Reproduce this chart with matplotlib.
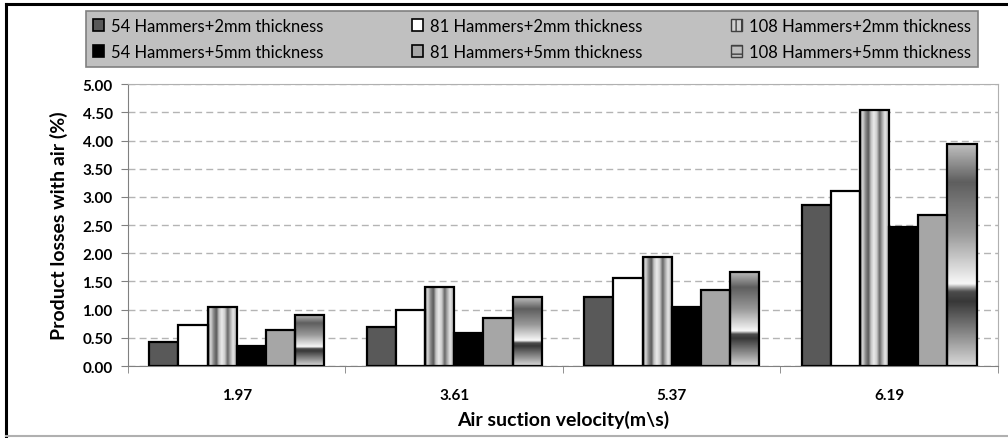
import numpy as np
import matplotlib
matplotlib.use("Agg")
import matplotlib.pyplot as plt
from matplotlib.patches import Patch, Rectangle
from matplotlib.lines import Line2D

plt.rcParams["font.family"] = ["Lato", "DejaVu Sans"]

# data
velocities = ["1.97", "3.61", "5.37", "6.19"]
series_names = [
    "54 Hammers+2mm thickness",
    "81 Hammers+2mm thickness",
    "108 Hammers+2mm thickness",
    "54 Hammers+5mm thickness",
    "81 Hammers+5mm thickness",
    "108 Hammers+5mm thickness",
]
h54_2mm = [0.43, 0.69, 1.23, 2.85]
h81_2mm = [0.72, 0.99, 1.56, 3.10]
h108_2mm = [1.05, 1.41, 1.93, 4.55]
h54_5mm = [0.36, 0.59, 1.05, 2.46]
h81_5mm = [0.63, 0.85, 1.35, 2.68]
h108_5mm = [0.91, 1.22, 1.67, 3.93]
series_values = [h54_2mm, h81_2mm, h108_2mm, h54_5mm, h81_5mm, h108_5mm]

# fills: plain colours, or "stripes" / "band" for the image-filled bars
fills = ["#595959", "#ffffff", "stripes", "#000000", "#a6a6a6", "band"]

# vertical stripes across the bar width (grey level)
stripe_pos = [0.0, 0.08, 0.18, 0.28, 0.36, 0.46, 0.56, 0.66, 0.74, 0.84, 0.93, 1.0]
stripe_lvl = [0.45, 0.85, 0.55, 0.35, 0.75, 0.92, 0.80, 0.40, 0.65, 0.90, 0.75, 0.50]
# horizontal band from top (0) to bottom (1)
band_pos = [0.0, 0.17, 0.40, 0.63, 0.665, 0.71, 1.0]
band_lvl = [0.75, 0.37, 0.60, 0.97, 0.30, 0.22, 0.85]

fig = plt.figure(figsize=(10.08, 4.39), dpi=100)
ax = fig.add_axes([0.127, 0.164, 0.863, 0.642])

x = np.arange(len(velocities))
width = 0.134
n = len(series_values)
for i, (vals, fill) in enumerate(zip(series_values, fills)):
    pos = x + (i - (n - 1) / 2) * width
    plain = fill not in ("stripes", "band")
    bars = ax.bar(pos, vals, width, color=fill if plain else "none",
                  edgecolor="black", linewidth=1.6, zorder=3)
    if plain:
        continue
    for b in bars:
        x0, w, h = b.get_x(), b.get_width(), b.get_height()
        if fill == "stripes":
            t = np.linspace(0, 1, 64)
            img = np.interp(t, stripe_pos, stripe_lvl)[None, :]
        else:
            t = np.linspace(0, 1, 200)
            img = np.interp(t, band_pos, band_lvl)[:, None]
        im = ax.imshow(img, extent=[x0, x0 + w, 0, h], origin="upper",
                       aspect="auto", cmap="gray", vmin=0, vmax=1,
                       interpolation="bilinear", zorder=2.5)
        clip = Rectangle((x0, 0), w, h, transform=ax.transData)
        im.set_clip_path(clip)

ax.set_xlim(-0.5, len(velocities) - 0.5)
ax.set_ylim(0, 5)
ax.set_yticks(np.arange(0, 5.01, 0.5))
ax.set_yticklabels([f"{v:.2f}" for v in np.arange(0, 5.01, 0.5)],
                   fontsize=11, fontweight="bold")
ax.set_xticks(x)
ax.set_xticklabels(velocities, fontsize=11, fontweight="bold")
ax.set_xticks(np.arange(-0.5, len(velocities), 1), minor=True)
ax.tick_params(axis="x", which="major", length=0, pad=16)
ax.tick_params(axis="x", which="minor", length=5, color="#808080", direction="out")
ax.tick_params(axis="y", length=5, color="#808080", direction="out", pad=6)
ax.grid(axis="y", linestyle=(0, (5, 3)), color="#b4b4b4", linewidth=1, zorder=0)
ax.set_axisbelow(True)
for side in ["left", "bottom"]:
    ax.spines[side].set_color("#808080")
for side in ["top", "right"]:
    ax.spines[side].set_color("#b0b0b0")

ax.set_ylabel("Product losses with air (%)", fontsize=14, fontweight="bold", labelpad=10)
ax.set_xlabel("Air suction velocity(m\\s)", fontsize=14, fontweight="bold", va="center")
ax.xaxis.set_label_coords(0.5, -0.188)

# legend proxies
handles = []
for name, fill in zip(series_names, fills):
    if fill == "stripes":
        handles.append(Patch(facecolor="#d0d0d0", edgecolor="#404040", hatch="|||", label=name))
    elif fill == "band":
        handles.append(Patch(facecolor="#bdbdbd", edgecolor="#404040", hatch="--", label=name))
    else:
        handles.append(Patch(facecolor=fill, edgecolor="black", linewidth=1.2, label=name))
order = [0, 3, 1, 4, 2, 5]
leg = fig.legend([handles[k] for k in order], [series_names[k] for k in order],
                 ncol=3, loc="center", bbox_to_anchor=(0.5275, 0.909),
                 frameon=True, fancybox=False, fontsize=12,
                 handlelength=0.7, handleheight=0.7, handletextpad=0.4,
                 columnspacing=5.3, labelspacing=0.6, borderpad=0.4)
leg.get_frame().set_facecolor("#c0c0c0")
leg.get_frame().set_edgecolor("#808080")
leg.get_frame().set_linewidth(1.2)
leg.get_frame().set_alpha(1)

# outer chart frame
fig.add_artist(Line2D([0.006, 0.006], [0.005, 0.988], color="black", lw=2.2,
                      transform=fig.transFigure))
fig.add_artist(Line2D([0.006, 1.0], [0.988, 0.988], color="black", lw=2.2,
                      transform=fig.transFigure))
fig.add_artist(Line2D([0.006, 1.0], [0.005, 0.005], color="#b0b0b0", lw=1.5,
                      transform=fig.transFigure))

fig.savefig("out.png", dpi=100)
